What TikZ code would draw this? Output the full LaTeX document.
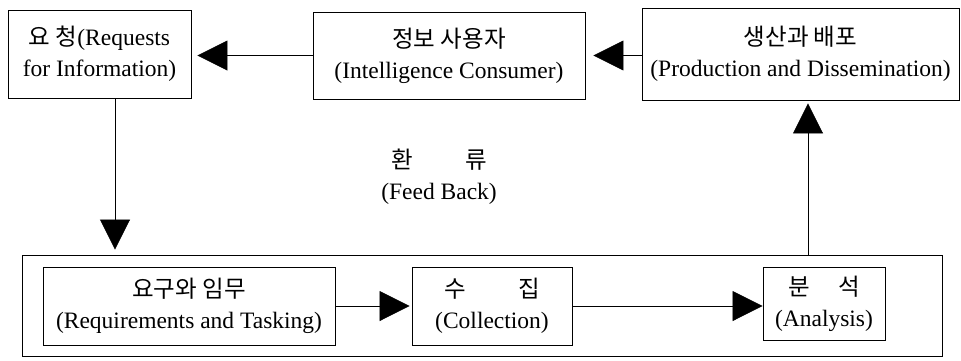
\documentclass[tikz,border=0pt]{standalone}
\usepackage{fontspec}
\setmainfont{Liberation Serif}
\newfontfamily\kr{Noto Sans CJK KR}
\usetikzlibrary{arrows.meta, calc}

\begin{document}
\begin{tikzpicture}[
        x=1pt, y=-1pt,
        box/.style={draw, line width=0.9pt, align=center, inner sep=0pt,
            font=\fontsize{23.5}{31}\selectfont},
        flow/.style={-{Triangle[length=30pt, width=30pt]}, line width=0.8pt},
        line/.style={line width=0.8pt}
    ]
        \useasboundingbox (0,0) rectangle (961,360);

        % Nodes
        \node[box, minimum width=183pt, minimum height=88pt] (req) at (99.5,54)
            {{\kr 요\ 청}(Requests\\for Information)};
        \node[box, minimum width=272pt, minimum height=87pt] (cons) at (449,55.5)
            {{\kr 정보 사용자}\\(Intelligence Consumer)};
        \node[box, minimum width=317pt, minimum height=92pt] (prod) at (800.5,54)
            {{\kr 생산과 배포}\\(Production and Dissemination)};
        \node[draw, line width=0.9pt, minimum width=920pt, minimum height=101pt] (cycle) at (482,305.5) {};
        \node[box, minimum width=292pt, minimum height=78pt] (reqt) at (189,306)
            {{\kr 요구와 임무}\\(Requirements and Tasking)};
        \node[box, minimum width=160pt, minimum height=78pt] (coll) at (492,306)
            {{\kr 수\qquad\ 집}\\(Collection)};
        \node[box, minimum width=122pt, minimum height=73pt] (anal) at (824,303.5)
            {{\kr 분\quad\ 석}\\(Analysis)};
        \node[align=center, font=\fontsize{23.5}{31}\selectfont] (fb) at (439,177)
            {{\kr 환\qquad\ 류}\\(Feed Back)};
        \coordinate (down) at (115,0);
        \coordinate (up) at (808,0);

        % Lines
        \draw[flow, shorten >=8pt] (prod.west |- cons.east) -- (cons.east);
        \draw[flow, shorten >=6pt] (cons.west) -- (cons.west -| req.east);
        \draw[flow, shorten >=5pt] (down |- req.south) -- (down |- cycle.north);
        \draw[flow, shorten >=2pt] (reqt.east) -- (coll.west);
        \draw[flow] (coll.east) -- (coll.east -| anal.west);
        \draw[flow, shorten >=3pt] (up |- cycle.north) -- (up |- prod.south);
    \end{tikzpicture}
\end{document}
